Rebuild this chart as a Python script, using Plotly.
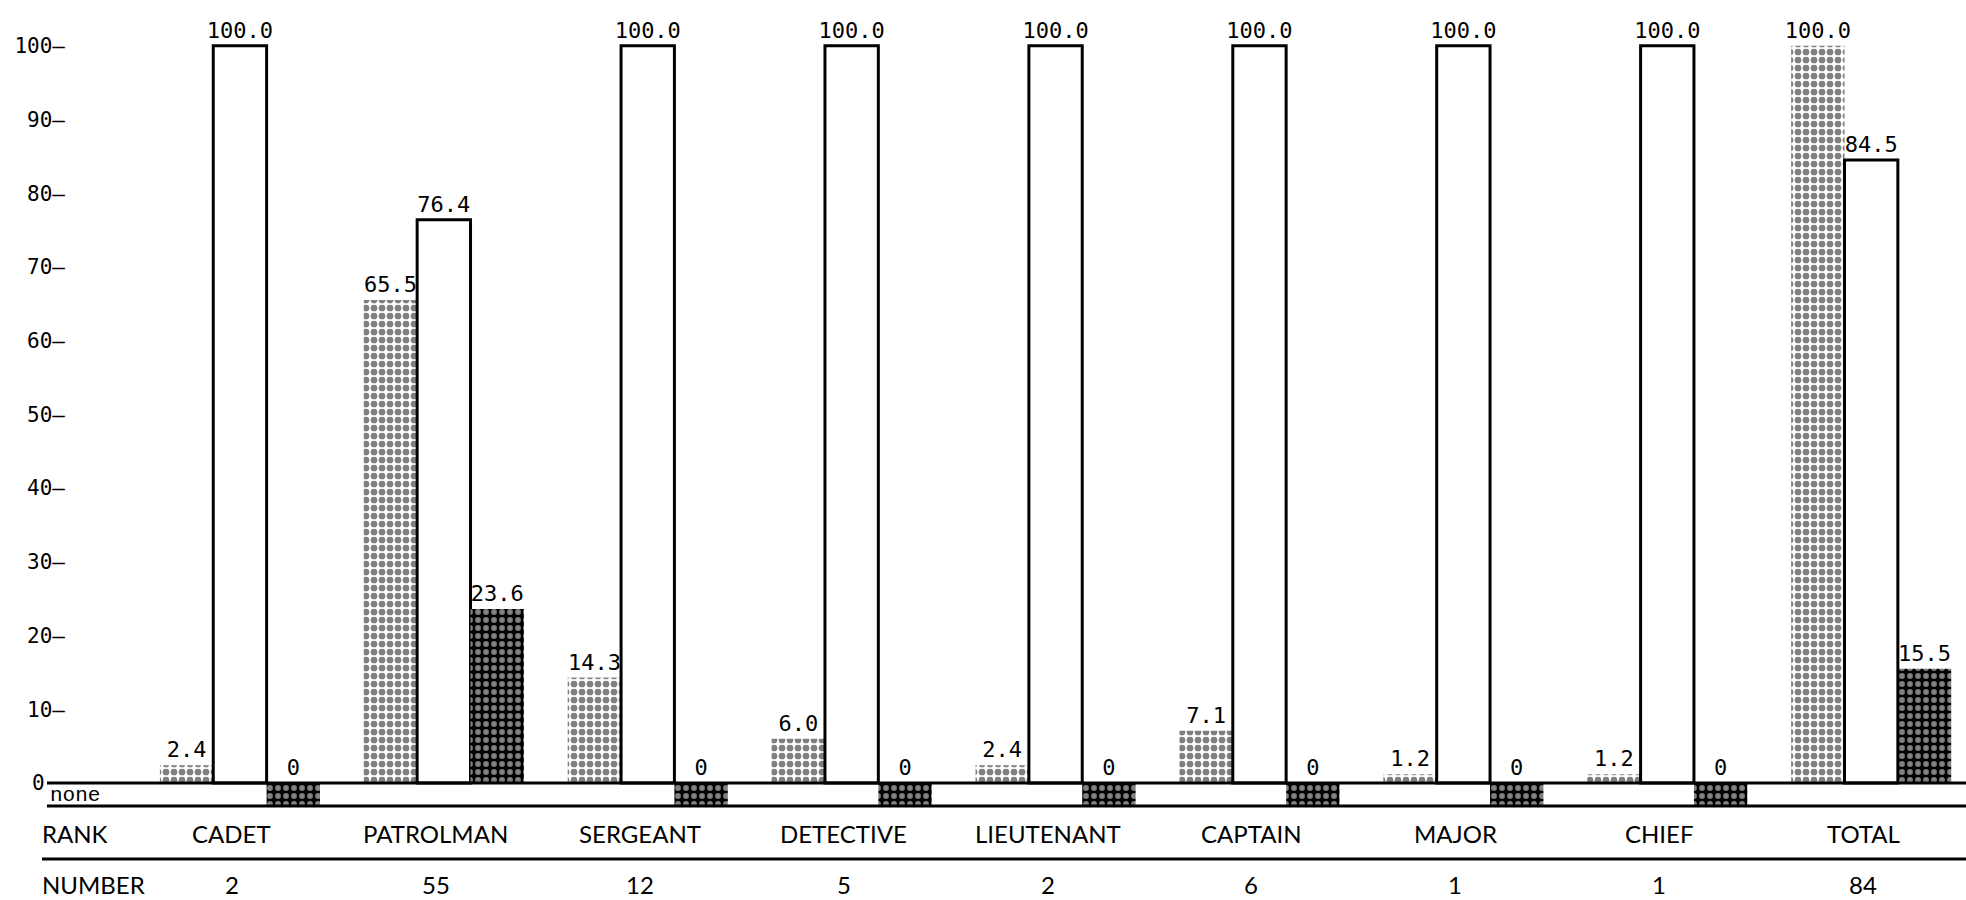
import plotly.graph_objects as go

# ---- data -------------------------------------------------------------
ranks = ["CADET", "PATROLMAN", "SERGEANT", "DETECTIVE", "LIEUTENANT",
         "CAPTAIN", "MAJOR", "CHIEF", "TOTAL"]
numbers = [2, 55, 12, 5, 2, 6, 1, 1, 84]
share_of_force = [2.4, 65.5, 14.3, 6.0, 2.4, 7.1, 1.2, 1.2, 100.0]
pct_yes = [100.0, 76.4, 100.0, 100.0, 100.0, 100.0, 100.0, 100.0, 84.5]
pct_no = [0, 23.6, 0, 0, 0, 0, 0, 0, 15.5]
y_ticks = [0, 10, 20, 30, 40, 50, 60, 70, 80, 90, 100]

# ---- layout constants -------------------------------------------------
W, H = 1966, 900
Y_MIN, Y_MAX = -15.87, 106.2           # data units spanning the full height
NONE_DEPTH = 3.12                       # depth of the "none" band below zero
RANK_Y = -6.8
RULE_Y = -10.3
NUMBER_Y = -13.7
X_RANGE = [-0.853, 8.465]
LEFT = 66

MONO = "DejaVu Sans Mono"
SANS = "Lato"

xs = list(range(len(ranks)))


def fmt(v):
    return "0" if v == 0 else f"{v:.1f}"


light_pattern = dict(shape=".", size=8, solidity=0.55,
                     fgcolor="black", bgcolor="white")
dark_pattern = dict(shape=".", size=8, solidity=0.42,
                    fgcolor="white", bgcolor="black")

fig = go.Figure()

common = dict(textposition="outside", cliponaxis=False, constraintext="none",
              textfont=dict(family=MONO, size=22, color="black"))

fig.add_trace(go.Bar(
    x=xs, y=share_of_force, offsetgroup="a", name="share",
    text=[fmt(v) for v in share_of_force],
    marker=dict(color="white", line=dict(width=0), pattern=light_pattern),
    **common))

fig.add_trace(go.Bar(
    x=xs, y=pct_yes, offsetgroup="b", name="yes",
    text=[fmt(v) for v in pct_yes],
    marker=dict(color="white", line=dict(width=3, color="black")),
    **common))

fig.add_trace(go.Bar(
    x=xs, y=pct_no, offsetgroup="c", name="no",
    text=[fmt(v) for v in pct_no],
    marker=dict(color="black", line=dict(width=0), pattern=dark_pattern),
    **common))

# blocks in the "none" band where a rank reports zero
none_x = [x for x, v in zip(xs, pct_no) if v == 0]
fig.add_trace(go.Bar(
    x=none_x, y=[-NONE_DEPTH] * len(none_x), offsetgroup="c", name="none",
    cliponaxis=False,
    marker=dict(color="black", line=dict(width=0), pattern=dark_pattern)))

# ---- rules ------------------------------------------------------------
plot_w = W - LEFT


def px_to_paper(p):
    return (p - LEFT) / plot_w


shapes = [
    dict(type="line", xref="paper", yref="y", x0=px_to_paper(47), x1=1,
         y0=0, y1=0, line=dict(color="black", width=3)),
    dict(type="line", xref="paper", yref="y", x0=px_to_paper(47), x1=1,
         y0=-NONE_DEPTH, y1=-NONE_DEPTH, line=dict(color="black", width=3)),
    dict(type="line", xref="paper", yref="y", x0=px_to_paper(42), x1=1,
         y0=RULE_Y, y1=RULE_Y, line=dict(color="black", width=3)),
]

# ---- labels -----------------------------------------------------------
annotations = [
    # zero label sits at the left end of the baseline rule
    dict(x=px_to_paper(47), y=0, xref="paper", yref="y", text="0",
         showarrow=False, xanchor="right", yanchor="middle", xshift=0,
         font=dict(family=MONO, size=21, color="black")),
    dict(x=px_to_paper(48), y=-NONE_DEPTH / 2 - 0.15, xref="paper", yref="y",
         text="none", showarrow=False, xanchor="left", yanchor="middle",
         font=dict(family="Liberation Mono", size=21, color="black")),
    dict(x=px_to_paper(40), y=RANK_Y, xref="paper", yref="y", text="RANK",
         showarrow=False, xanchor="left", yanchor="middle",
         font=dict(family=SANS, size=24, color="black")),
    dict(x=px_to_paper(40), y=NUMBER_Y, xref="paper", yref="y", text="NUMBER",
         showarrow=False, xanchor="left", yanchor="middle",
         font=dict(family=SANS, size=24, color="black")),
]
for x, r, n in zip(xs, ranks, numbers):
    annotations.append(dict(x=x, y=RANK_Y, xref="x", yref="y", text=r,
                            showarrow=False, xanchor="center", yanchor="middle",
                            xshift=-8,
                            font=dict(family=SANS, size=24, color="black")))
    annotations.append(dict(x=x, y=NUMBER_Y, xref="x", yref="y", text=str(n),
                            showarrow=False, xanchor="center", yanchor="middle",
                            xshift=-8,
                            font=dict(family=SANS, size=24, color="black")))

tick_vals = [t for t in y_ticks if t != 0]
tick_text = [f"{t}\u2013" for t in tick_vals]

fig.update_layout(
    width=W, height=H,
    margin=dict(l=LEFT, r=0, t=0, b=0),
    paper_bgcolor="white", plot_bgcolor="white",
    barmode="group", bargap=0.215, bargroupgap=0,
    showlegend=False,
    shapes=shapes, annotations=annotations,
    xaxis=dict(range=X_RANGE, visible=False, fixedrange=True),
    yaxis=dict(range=[Y_MIN, Y_MAX], tickvals=tick_vals, ticktext=tick_text,
               ticks="", showgrid=False, zeroline=False, showline=False,
               tickfont=dict(family=MONO, size=21, color="black"),
               fixedrange=True),
)

fig.write_html("out.html")
